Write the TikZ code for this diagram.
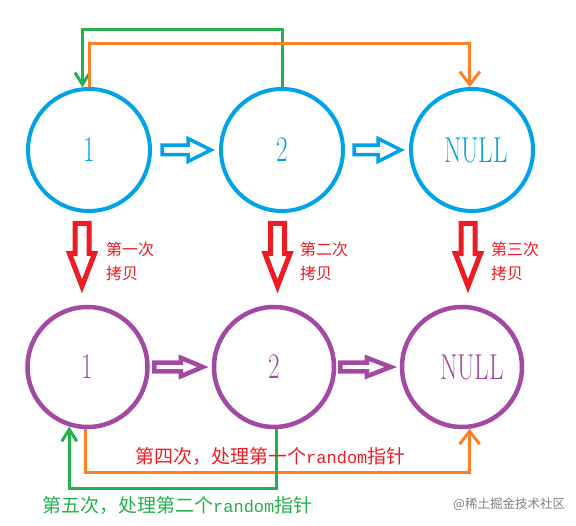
\documentclass[tikz,border=0pt]{standalone}
\usepackage{fontspec}
\newfontfamily\cjk{Noto Sans CJK SC}
\newfontfamily\halfwidth{Liberation Mono}
\usetikzlibrary{calc,arrows.meta}
\definecolor{nodeblue}{HTML}{00A2E8}
\definecolor{nodepurple}{HTML}{A349A4}
\definecolor{copyred}{HTML}{ED1C24}
\definecolor{linegreen}{HTML}{22B14C}
\definecolor{lineorange}{HTML}{FF7F27}
\newcommand\narrowtext[1]{\scalebox{.7}[1]{#1}}
\newcommand\randword{{\halfwidth\fontsize{17}{17}\selectfont random}}
% hollow block arrows: style, tail, tip, half shaft, half head, head length
\newcommand\hollowright[6]{%
  \draw[#1] let \p1=(#2), \p2=(#3) in
    (\x1,\y1+#4) -- (\x2-#6,\y1+#4) -- (\x2-#6,\y1+#5) -- (\x2,\y1) -- (\x2-#6,\y1-#5) -- (\x2-#6,\y1-#4) -- (\x1,\y1-#4) -- cycle;}
\newcommand\hollowdown[6]{%
  \draw[#1] let \p1=(#2), \p2=(#3) in
    (\x1+#4,\y1) -- (\x1+#4,\y2+#6) -- (\x1+#5,\y2+#6) -- (\x1,\y2) -- (\x1-#5,\y2+#6) -- (\x1-#4,\y2+#6) -- (\x1-#4,\y1) -- cycle;}
\tikzset{
  orignode/.style={circle,draw=nodeblue,line width=4pt,minimum size=122pt,inner sep=0pt,text=nodeblue,font=\fontsize{36}{36}\selectfont},
  copynode/.style={circle,draw=nodepurple,line width=4.5pt,minimum size=120pt,inner sep=0pt,text=nodepurple,font=\fontsize{36}{36}\selectfont},
  nextblue/.style={draw=nodeblue,line width=3.5pt},
  nextpurple/.style={draw=nodepurple,line width=4.5pt},
  copyarrow/.style={draw=copyred,line width=5pt},
  copylabel/.style={text=copyred,font=\cjk\fontsize{16}{24}\selectfont,align=left,anchor=west,inner sep=0pt},
  randline/.style={line width=3pt},
  randtext/.style={font=\cjk\fontsize{19}{19}\selectfont,anchor=west,inner sep=0pt}
}
\begin{document}
\begin{tikzpicture}[x=1pt,y=-1pt]
	\useasboundingbox (0,0) rectangle (576,526);
	% original list
	\node[orignode] (a1) at (89,150) {\narrowtext{1}};
	\node[orignode] (a2) at (282,150) {\narrowtext{2}};
	\node[orignode] (aN) at (472,150) {\hspace*{8pt}\narrowtext{NULL}};
	% copied list
	\node[copynode] (b1) at (87.5,367) {\narrowtext{1}};
	\node[copynode] (b2) at (274,367) {\narrowtext{2}};
	\node[copynode] (bN) at (462,367) {\hspace*{20pt}\narrowtext{NULL}};
	% next pointers
	\hollowright{nextblue}{$(a1.east)+(10,0)$}{$(a2.west)+(-8,0)$}{4.75}{11.5}{23}
	\hollowright{nextblue}{$(a2.east)+(9,0)$}{$(aN.west)+(-8,0)$}{4.75}{11.5}{23}
	\hollowright{nextpurple}{$(b1.east)+(4.5,0)$}{$(b2.west)+(-9,0)$}{4.3}{9.3}{22}
	\hollowright{nextpurple}{$(b2.east)+(4,0)$}{$(bN.west)+(-9,0)$}{4.3}{9.3}{24}
	% copy steps
	\hollowdown{copyarrow}{$(a1.south)+(-7,10.5)$}{$(b1.north)+(0,-18.5)$}{7}{12.5}{32.5}
	\hollowdown{copyarrow}{$(a2.south)+(-4.5,10.5)$}{$(b2.north)+(0,-18.5)$}{7}{12.5}{32.5}
	\hollowdown{copyarrow}{$(aN.south)+(-4,10.5)$}{$(bN.north)+(0,-18.5)$}{7}{12.5}{32.5}
	\node[copylabel] (l1) at ($(a1.south)+(17,48)$) {第一次\\拷贝};
	\node[copylabel] (l2) at ($(a2.south)+(18,48)$) {第二次\\拷贝};
	\node[copylabel] (l3) at ($(aN.south)+(19,48)$) {第三次\\拷贝};
	% random pointers
	\draw[randline,draw=linegreen,-{Straight Barb[length=12pt,width=15pt]}] (a2.north) -- ++(0,-57) -| (a1.96);
	\draw[randline,draw=lineorange,-{Straight Barb[length=13pt,width=20pt]}] (a1.north) -- ++(0,-43) -| (aN.92);
	\draw[randline,draw=lineorange,-{Straight Barb[length=13pt,width=20pt]}] (b1.-92) -- ++(0,43) -| (bN.-83);
	\draw[randline,draw=linegreen,-{Straight Barb[length=12pt,width=15pt]}] (b2.-88) -- ++(0,59) -| (b1.-107);
	\node[randtext,text=copyred] (t4) at (135,456) {第四次，处理第一个\randword 指针};
	\node[randtext,text=linegreen] (t5) at (42,505) {第五次，处理第二个\randword 指针};
	\node[font=\cjk\fontsize{12.5}{12.5}\selectfont,text=gray,anchor=west,inner sep=0pt] (wm) at (453,504) {@稀土掘金技术社区};
\end{tikzpicture}
\end{document}
